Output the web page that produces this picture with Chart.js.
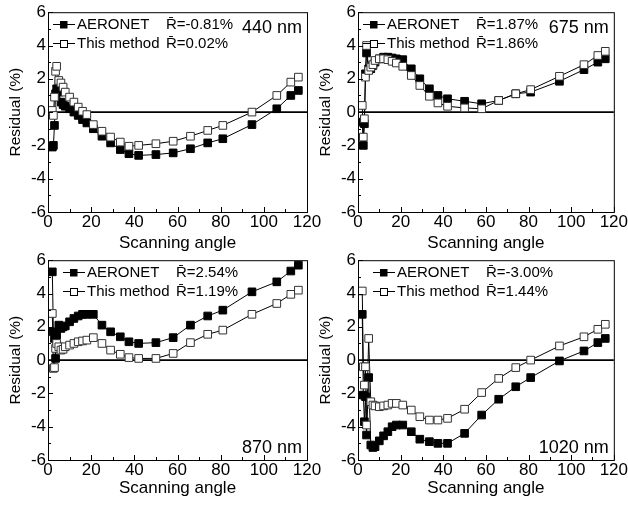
<!DOCTYPE html>
<html>
<head>
<meta charset="utf-8">
<script src="https://cdn.jsdelivr.net/npm/chart.js@4.4.0/dist/chart.umd.min.js"></script>
<style>
    body { margin: 0; background: #fff; width: 628px; height: 510px; overflow: hidden; }
    .panel { position: absolute; }
</style>
</head>
<body>
<div class="panel" style="left:0;top:0"><canvas id="c440" width="330" height="255"></canvas></div>
<div class="panel" style="left:310px;top:0"><canvas id="c675" width="318" height="255"></canvas></div>
<div class="panel" style="left:0;top:248px"><canvas id="c870" width="330" height="255"></canvas></div>
<div class="panel" style="left:310px;top:248px"><canvas id="c1020" width="318" height="255"></canvas></div>
<script>
// scanning angles shared by all four wavelengths
const angles = [
    2, 2.5, 3, 3.5, 4, 5, 6, 7, 8, 10, 12, 14, 16, 18, 21, 25, 29, 33.5, 37.5,
    42, 50, 58, 66, 74, 81, 94.5, 106, 112.5, 116
];
const aeronet440 = [
    -2.1, -2.0, -0.8, 1.1, 1.4, 1.2, 0.6, 0.45, 0.35, 0.2, 0.0, -0.2, -0.45,
    -0.65, -1.0, -1.45, -1.85, -2.25, -2.5, -2.6, -2.55, -2.45, -2.2, -1.85,
    -1.6, -0.75, 0.2, 1.0, 1.3
];
const method440 = [
    0.1, -0.2, 0.9, 2.45, 2.75, 1.9, 1.75, 1.5, 1.2, 0.9, 0.6, 0.3, 0.05,
    -0.15, -0.75, -1.15, -1.5, -1.8, -2.05, -2.0, -1.9, -1.75, -1.45, -1.1,
    -0.8, 0.0, 1.0, 1.8, 2.1
];
const aeronet675 = [
    -0.6, -2.0, -0.7, 2.3, 3.55, 2.6, 2.6, 2.8, 3.0, 3.2, 3.3, 3.3, 3.25, 3.2,
    3.15, 2.6, 2.0, 1.4, 1.0, 0.8, 0.65, 0.5, 0.7, 1.1, 1.2, 1.85, 2.55, 3.0,
    3.2
];
const method675 = [
    0.4, -1.5, -0.4, 2.1, 4.0, 2.5, 2.7, 2.85, 3.1, 3.2, 3.2, 3.15, 3.05, 2.95,
    2.75, 2.2, 1.6, 0.95, 0.55, 0.35, 0.25, 0.2, 0.7, 1.1, 1.35, 2.15, 2.85,
    3.4, 3.65
];
const aeronet870 = [
    5.3, 1.7, 1.3, 0.1, 1.5, 2.1, 1.9, 2.0, 2.05, 2.3, 2.5, 2.65, 2.75, 2.75,
    2.75, 2.1, 1.7, 1.4, 1.1, 1.0, 1.05, 1.35, 2.1, 2.65, 3.0, 4.1, 4.7, 5.35,
    5.7
];
const method870 = [
    2.8, -0.5, -0.45, 0.7, 1.0, 0.8, 0.6, 0.65, 0.8, 0.9, 1.0, 1.1, 1.15, 1.2,
    1.35, 1.0, 0.6, 0.35, 0.15, 0.1, 0.1, 0.4, 1.05, 1.55, 1.8, 2.75, 3.4,
    3.95, 4.2
];
const aeronet1020 = [
    2.75, -2.1, -3.7, -2.2, -4.5, -1.05, -5.1, -5.25, -5.2, -4.85, -4.55, -4.3,
    -4.0, -3.9, -3.9, -4.3, -4.75, -4.9, -5.0, -5.0, -4.4, -3.3, -2.35, -1.6,
    -1.05, -0.05, 0.55, 1.05, 1.3
];
const method1020 = [
    4.15, -0.4, -1.5, -0.4, -3.9, 1.3, -2.5, -2.7, -2.75, -2.8, -2.75, -2.7,
    -2.6, -2.6, -2.7, -3.0, -3.4, -3.6, -3.6, -3.5, -2.95, -1.95, -1.1, -0.45,
    0.0, 0.85, 1.4, 1.85, 2.15
];
const meanAeronet = ["-0.81%", "1.87%", "2.54%", "-3.00%"];
const meanMethod = ["0.02%", "1.86%", "1.19%", "1.44%"];
const wavelengths = ["440 nm", "675 nm", "870 nm", "1020 nm"];

const FONT = "'Liberation Sans', Arial, sans-serif";
Chart.defaults.font.family = FONT;
Chart.defaults.color = "#000";

const toPoints = (ys) => ys.map((y, i) => ({ x: angles[i], y }));

// frame, inward ticks, zero line, legend and wavelength label
const decorPlugin = {
    id: "decor",
    beforeDatasetsDraw(chart) {
        const { ctx, chartArea: a, scales } = chart;
        const y0 = scales.y.getPixelForValue(0);
        ctx.save();
        ctx.strokeStyle = "#000";
        ctx.lineWidth = 1.6;
        ctx.beginPath();
        ctx.moveTo(a.left, y0);
        ctx.lineTo(a.right, y0);
        ctx.stroke();
        ctx.restore();
    },
    afterDraw(chart, args, opts) {
        const { ctx, chartArea: a, scales } = chart;
        ctx.save();
        ctx.strokeStyle = "#000";
        ctx.lineWidth = 1;
        ctx.strokeRect(a.left + 0.5, a.top + 0.5, a.right - a.left, a.bottom - a.top);
        ctx.beginPath();
        for (let v = 0; v <= 120; v += 10) {
            const px = Math.round(scales.x.getPixelForValue(v)) + 0.5;
            ctx.moveTo(px, a.bottom);
            ctx.lineTo(px, a.bottom - (v % 20 === 0 ? 5 : 3));
        }
        for (let v = -6; v <= 6; v += 1) {
            const py = Math.round(scales.y.getPixelForValue(v)) + 0.5;
            ctx.moveTo(a.left, py);
            ctx.lineTo(a.left + (v % 2 === 0 ? 5 : 3), py);
        }
        ctx.stroke();

        // legend rows
        const rows = [
            { y: 24, filled: true, name: "AERONET", r: "R\u0304=" + opts.rA },
            { y: 43, filled: false, name: "This method", r: "R\u0304=" + opts.rM }
        ];
        ctx.font = "15px " + FONT;
        ctx.textBaseline = "middle";
        ctx.textAlign = "left";
        rows.forEach((row) => {
            const x0 = opts.legendX;
            ctx.beginPath();
            ctx.moveTo(x0, row.y + 0.5);
            ctx.lineTo(x0 + 22, row.y + 0.5);
            ctx.stroke();
            ctx.fillStyle = row.filled ? "#000" : "#fff";
            ctx.fillRect(x0 + 7, row.y - 3, 7.5, 7.5);
            if (!row.filled) {
                ctx.strokeRect(x0 + 7.5, row.y - 2.5, 7, 7);
            }
            ctx.fillStyle = "#000";
            ctx.fillText(row.name, x0 + 24, row.y + 1);
            ctx.fillText(row.r, opts.rX, row.y + 1);
        });

        ctx.font = "18px " + FONT;
        ctx.textAlign = "right";
        const ly = opts.labelTop ? a.top + 16 : a.bottom - 12;
        ctx.fillText(opts.label, a.right - 5, ly);
        ctx.restore();
    }
};

const makePanel = (id, aeronet, method, idx, labelTop, legendX, rX, titlePad) => {
    const canvas = document.getElementById(id);
    return new Chart(canvas, {
        type: "line",
        data: {
            datasets: [
                {
                    label: "AERONET",
                    data: toPoints(aeronet),
                    borderColor: "#000",
                    borderWidth: 1,
                    pointStyle: "rect",
                    pointRadius: 5.4,
                    pointBackgroundColor: "#000",
                    pointBorderColor: "#000",
                    pointBorderWidth: 1,
                    order: 2
                },
                {
                    label: "This method",
                    data: toPoints(method),
                    borderColor: "#000",
                    borderWidth: 1,
                    pointStyle: "rect",
                    pointRadius: 5.4,
                    pointBackgroundColor: "#fff",
                    pointBorderColor: "#333",
                    pointBorderWidth: 1,
                    order: 1
                }
            ]
        },
        options: {
            responsive: false,
            animation: false,
            devicePixelRatio: 1,
            layout: { padding: { top: 12, right: canvas.width - 307, left: 0, bottom: 0 } },
            plugins: {
                legend: { display: false },
                tooltip: { enabled: false },
                decor: {
                    rA: meanAeronet[idx],
                    rM: meanMethod[idx],
                    label: wavelengths[idx],
                    labelTop,
                    legendX,
                    rX
                }
            },
            scales: {
                x: {
                    type: "linear",
                    min: 0,
                    max: 120,
                    grid: { display: false, drawTicks: false },
                    border: { display: false },
                    ticks: { stepSize: 20, padding: 0, font: { size: 17 } },
                    title: {
                        display: true,
                        text: "Scanning angle",
                        font: { size: 17 },
                        padding: { top: 0, bottom: titlePad }
                    },
                    afterFit: (axis) => { axis.height = 43; }
                },
                y: {
                    min: -6,
                    max: 6,
                    grid: { display: false, drawTicks: false },
                    border: { display: false },
                    ticks: { stepSize: 2, padding: 2, font: { size: 17 } },
                    title: {
                        display: true,
                        text: "Residual (%)",
                        font: { size: 15.5 },
                        padding: { top: 6, bottom: 0 }
                    },
                    afterFit: (axis) => { axis.width = 48; }
                }
            }
        },
        plugins: [decorPlugin]
    });
};

makePanel("c440", aeronet440, method440, 0, true, 53, 166, 1);
makePanel("c675", aeronet675, method675, 1, true, 53, 166, 1);
makePanel("c870", aeronet870, method870, 2, false, 63, 176, 4);
makePanel("c1020", aeronet1020, method1020, 3, false, 63, 176, 4);
</script>
</body>
</html>
